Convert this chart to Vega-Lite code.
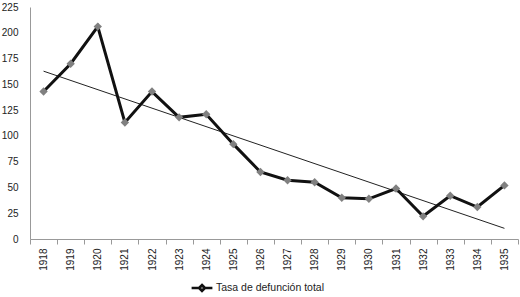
{
  "$schema": "https://vega.github.io/schema/vega-lite/v6.json",
  "autosize": {"type": "none"},
  "width": 488,
  "height": 232,
  "padding": {"left": 30, "top": 7, "right": 2, "bottom": 58},
  "background": "white",
  "config": {
    "view": {"stroke": null},
    "font": "Liberation Sans",
    "axis": {"labelFont": "Liberation Sans", "labelColor": "#222", "grid": false}
  },
  "data": {
    "values": [
      {"year": 1918, "rate": 143},
      {"year": 1919, "rate": 170},
      {"year": 1920, "rate": 206},
      {"year": 1921, "rate": 113},
      {"year": 1922, "rate": 143},
      {"year": 1923, "rate": 118},
      {"year": 1924, "rate": 121},
      {"year": 1925, "rate": 92},
      {"year": 1926, "rate": 65},
      {"year": 1927, "rate": 57},
      {"year": 1928, "rate": 55},
      {"year": 1929, "rate": 40},
      {"year": 1930, "rate": 39},
      {"year": 1931, "rate": 49},
      {"year": 1932, "rate": 22},
      {"year": 1933, "rate": 42},
      {"year": 1934, "rate": 31},
      {"year": 1935, "rate": 52}
    ]
  },
  "encoding": {
    "x": {
      "field": "year", "type": "ordinal",
      "scale": {"type": "band", "paddingInner": 0, "paddingOuter": 0},
      "axis": {
        "title": null, "labelAngle": -90, "labelFontSize": 10, "labelPadding": 4,
        "tickBand": "extent", "tickSize": 5, "tickColor": "#999", "domainColor": "#999",
        "labelBaseline": "middle", "labelAlign": "right"
      }
    },
    "y": {
      "field": "rate", "type": "quantitative",
      "scale": {"domain": [0, 225], "nice": false},
      "axis": {
        "title": null, "values": [0, 25, 50, 75, 100, 125, 150, 175, 200, 225],
        "ticks": false, "labelPadding": 12, "labelFontSize": 10, "domainColor": "#999"
      }
    }
  },
  "layer": [
    {
      "transform": [{"regression": "rate", "on": "year"}],
      "mark": {"type": "line", "color": "#222", "strokeWidth": 1}
    },
    {
      "mark": {"type": "line", "strokeWidth": 3},
      "encoding": {
        "color": {
          "datum": "Tasa de defunción total",
          "scale": {"range": ["#111"]},
          "legend": {
            "title": null, "orient": "none", "legendX": 162, "legendY": 271, "direction": "horizontal",
            "labelFontSize": 10.5, "labelFont": "Liberation Sans", "labelColor": "#222",
            "symbolType": "M-1.2,0H-0.35M0.35,0H1.2M0,-0.35L0.35,0L0,0.35L-0.35,0Z",
            "symbolSize": 300, "symbolStrokeWidth": 2.5, "symbolFillColor": "#808080",
            "symbolStrokeColor": "#111"
          }
        }
      }
    },
    {
      "mark": {"type": "point", "shape": "diamond", "filled": true, "color": "#808080", "size": 70, "opacity": 1}
    }
  ]
}
